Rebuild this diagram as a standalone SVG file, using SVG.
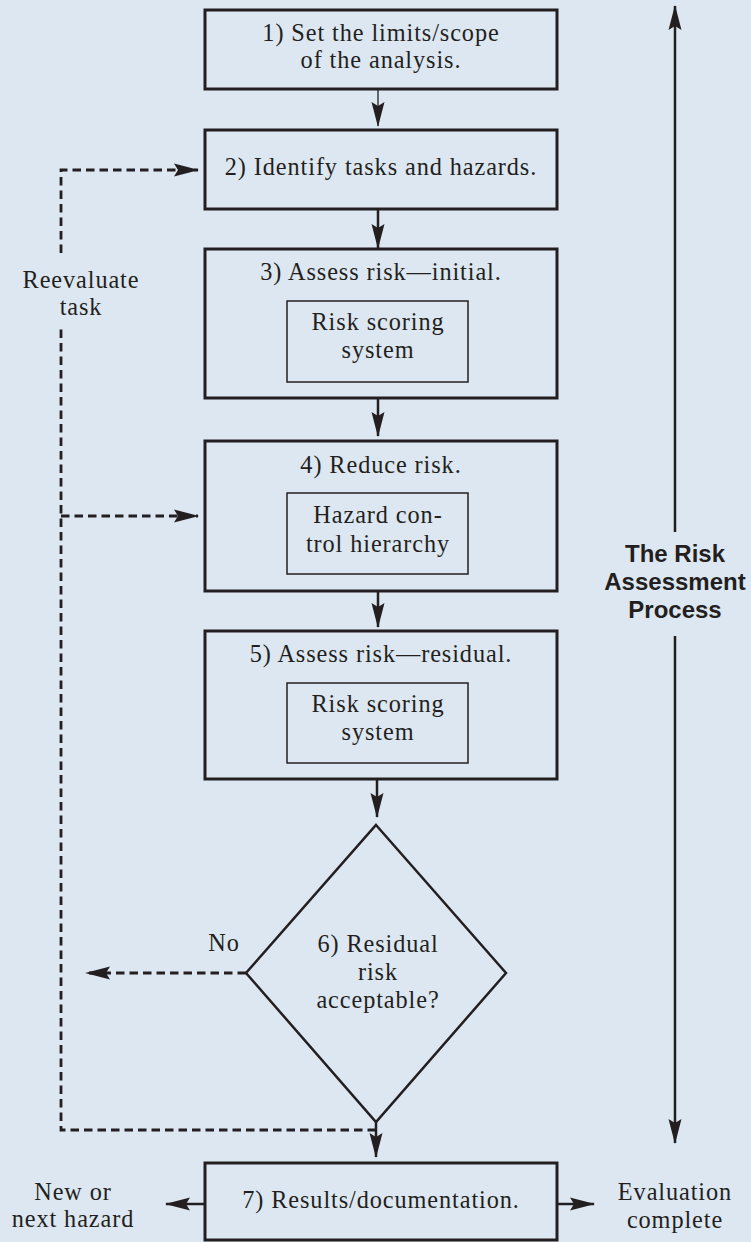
<svg xmlns="http://www.w3.org/2000/svg" width="751" height="1242" viewBox="0 0 751 1242">
<style>
.bg{fill:#dde7f1}
.box{fill:none;stroke:#231f20;stroke-width:3}
.inner{fill:none;stroke:#231f20;stroke-width:1.5}
.dia{fill:none;stroke:#231f20;stroke-width:2.5;stroke-linejoin:miter}
.t{font-family:"Liberation Serif","Times New Roman",serif;font-size:24.3px;letter-spacing:0.9px;fill:#231f20;text-anchor:middle}
.b{font-family:"Liberation Sans",Arial,sans-serif;font-size:24px;font-weight:bold;fill:#231f20;text-anchor:middle}
.ln{fill:none;stroke:#231f20;stroke-width:2.5}
.thin{fill:none;stroke:#231f20;stroke-width:1.3}
.dash{fill:none;stroke:#231f20;stroke-width:2.8;stroke-dasharray:8.5 5}
</style>
<defs>
<marker id="ah" viewBox="0 -7 25 14" refX="24" refY="0" markerWidth="25" markerHeight="14" markerUnits="userSpaceOnUse" orient="auto">
<path d="M0,-6.5 L25,0 L0,6.5 L4,0 Z" fill="#231f20"/>
</marker>
</defs>
<rect class="bg" x="0" y="0" width="751" height="1242"/>

<g id="connectors">
<line class="thin" x1="378" y1="89" x2="378" y2="126" marker-end="url(#ah)"/>
<line class="ln" x1="378" y1="209" x2="378" y2="248" marker-end="url(#ah)"/>
<line class="ln" x1="378" y1="398" x2="378" y2="436" marker-end="url(#ah)"/>
<line class="ln" x1="378" y1="591" x2="378" y2="627" marker-end="url(#ah)"/>
<line class="ln" x1="377" y1="779" x2="377" y2="817" marker-end="url(#ah)"/>
<line class="ln" x1="376" y1="1122" x2="376" y2="1157" marker-end="url(#ah)"/>
<path class="dash" d="M376,1130 H61 V325"/>
<path class="dash" d="M61,253 V170 H198" marker-end="url(#ah)"/>
<path class="dash" d="M61,516 H198" marker-end="url(#ah)"/>
<path class="dash" d="M246,973 H86" marker-end="url(#ah)"/>
<line class="ln" x1="204" y1="1204" x2="166" y2="1204" marker-end="url(#ah)"/>
<line class="ln" x1="557" y1="1204" x2="594" y2="1204" marker-end="url(#ah)"/>
<line class="ln" x1="675" y1="532" x2="675" y2="6" marker-end="url(#ah)"/>
<line class="ln" x1="675" y1="636" x2="675" y2="1143" marker-end="url(#ah)"/>
</g>

<g id="node1">
<rect class="box" x="205" y="10" width="352" height="79"/>
<text class="t" x="381" y="41">1) Set the limits/scope</text>
<text class="t" x="381" y="68">of the analysis.</text>
</g>
<g id="node2">
<rect class="box" x="205" y="130" width="352" height="79"/>
<text class="t" x="381" y="175">2) Identify tasks and hazards.</text>
</g>
<g id="node3">
<rect class="box" x="205" y="249" width="352" height="149"/>
<text class="t" x="381" y="280">3) Assess risk—initial.</text>
<rect class="inner" x="287" y="301" width="181" height="81"/>
<text class="t" x="378" y="330">Risk scoring</text>
<text class="t" x="378" y="358">system</text>
</g>
<g id="node4">
<rect class="box" x="205" y="441" width="352" height="150"/>
<text class="t" x="381" y="473">4) Reduce risk.</text>
<rect class="inner" x="287" y="493" width="181" height="81"/>
<text class="t" x="378" y="523">Hazard con-</text>
<text class="t" x="378" y="552">trol hierarchy</text>
</g>
<g id="node5">
<rect class="box" x="205" y="631" width="352" height="148"/>
<text class="t" x="381" y="662">5) Assess risk—residual.</text>
<rect class="inner" x="287" y="683" width="181" height="80"/>
<text class="t" x="378" y="712">Risk scoring</text>
<text class="t" x="378" y="740">system</text>
</g>
<g id="node6">
<path class="dia" d="M376,825 L506,973 L376,1122 L246,973 Z"/>
<text class="t" x="378" y="952">6) Residual</text>
<text class="t" x="378" y="980">risk</text>
<text class="t" x="378" y="1008">acceptable?</text>
</g>
<g id="node7">
<rect class="box" x="205" y="1163" width="352" height="77"/>
<text class="t" x="381" y="1208">7) Results/documentation.</text>
</g>
<g id="labels">
<text class="t" x="81" y="288">Reevaluate</text>
<text class="t" x="81" y="315">task</text>
<text class="t" x="224" y="951">No</text>
<text class="t" x="73" y="1200">New or</text>
<text class="t" x="73" y="1227">next hazard</text>
<text class="t" x="675" y="1200">Evaluation</text>
<text class="t" x="675" y="1228">complete</text>
<text class="b" x="675" y="562">The Risk</text>
<text class="b" x="675" y="590">Assessment</text>
<text class="b" x="675" y="618">Process</text>
</g>
</svg>
